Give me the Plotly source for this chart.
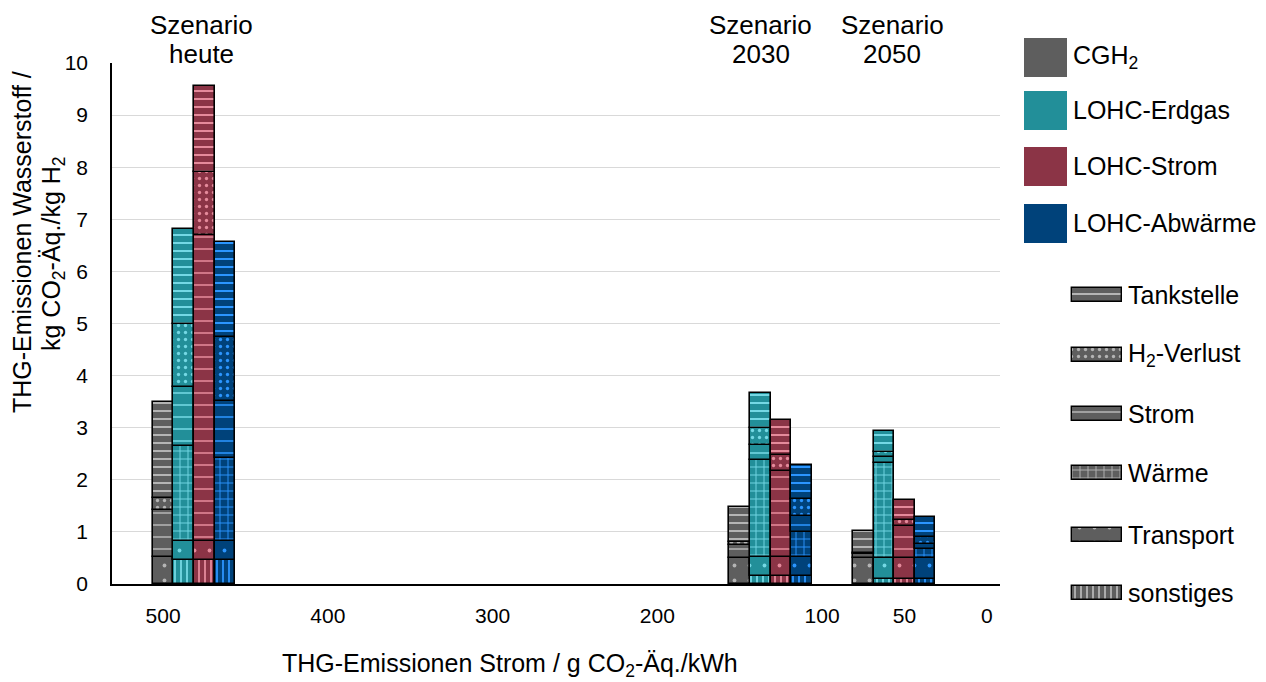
import plotly.graph_objects as go
import numpy as np

# ---------------- data ----------------
scenario_labels = ["Szenario", "Szenario", "Szenario"]
scenario_names = ["heute", "2030", "2050"]
technologies = ["CGH<sub>2</sub>", "LOHC-Erdgas", "LOHC-Strom", "LOHC-Abwärme"]
components = ["Tankstelle", "H<sub>2</sub>-Verlust", "Strom", "Wärme", "Transport", "sonstiges"]  # legend order

# bar positions (g CO2-Äq./kWh): heute, 2030, 2050 (CGH2, Erdgas, Strom, Abwärme)
x_heute = [500, 487.5, 475, 462.5]
x_2030 = [150, 137.5, 125, 112.5]
x_2050 = [75, 62.5, 50, 37.5]
bar_x = x_heute + x_2030 + x_2050

# segment values (kg CO2-Äq./kg H2), same order as bar_x
sonstiges = [0.00, 0.46, 0.46, 0.46, 0.00, 0.16, 0.16, 0.16, 0.00, 0.09, 0.09, 0.09]
transport = [0.51, 0.37, 0.37, 0.37, 0.49, 0.36, 0.36, 0.36, 0.50, 0.40, 0.40, 0.40]
waerme = [0.00, 1.82, 0.00, 1.58, 0.00, 1.86, 0.00, 0.47, 0.00, 1.83, 0.00, 0.18]
strom = [0.91, 1.13, 5.86, 1.11, 0.26, 0.29, 1.65, 0.31, 0.07, 0.12, 0.62, 0.10]
h2_verlust = [0.24, 1.21, 1.22, 1.23, 0.06, 0.32, 0.31, 0.34, 0.03, 0.10, 0.12, 0.13]
tankstelle = [1.84, 1.82, 1.64, 1.82, 0.67, 0.68, 0.67, 0.65, 0.42, 0.40, 0.38, 0.39]

x_ticks = [500, 400, 300, 200, 100, 50, 0]
y_ticks = [0, 1, 2, 3, 4, 5, 6, 7, 8, 9, 10]

# ---------------- styles ----------------
FONT = "Liberation Sans, Arial, sans-serif"
tech_bg = ["#5e5e5e", "#228f99", "#8b3446", "#00427a"]
tech_fg = ["#b4b4b4", "#74d8e4", "#e58a9b", "#2b95ff"]

# stacking order bottom -> top
stack = [
    ("sonstiges", sonstiges, dict(shape="|", size=6, solidity=0.3)),
    ("Transport", transport, dict(shape=".", size=15, solidity=0.05)),
    ("Wärme", waerme, dict(shape="+", size=8, solidity=0.22)),
    ("Strom", strom, dict(shape="-", size=12, solidity=0.16, fgopacity=0.8)),
    ("H<sub>2</sub>-Verlust", h2_verlust, dict(shape=".", size=7, solidity=0.18)),
    ("Tankstelle", tankstelle, dict(shape="-", size=8, solidity=0.25)),
]
pattern_by_name = {n: p for n, _, p in stack}

# the page body has an 8px margin; page coordinates below are those of the screenshot
OFF = 8
W, H = 1258, 674
ML, MR, MT, MB = 104, 6, 2, 70
PW, PH = W - ML - MR, H - MT - MB


def px_x(px):
    return (px - OFF - ML) / PW


def px_y(py):
    return (H - MB - (py - OFF)) / PH


fig = go.Figure()

n_tech = len(technologies)
base = np.zeros(len(bar_x))
for name, vals, pat in stack:
    vals = np.array(vals, dtype=float)
    for t in range(n_tech):
        idx = list(range(t, len(bar_x), n_tech))
        fig.add_trace(go.Bar(
            x=[bar_x[i] for i in idx], y=vals[idx], base=base[idx], width=12.5,
            name=f"{technologies[t]} – {name}", showlegend=False,
            marker=dict(color=tech_bg[t], line=dict(color="#000000", width=1.6),
                        pattern=dict(fgcolor=tech_fg[t], bgcolor=tech_bg[t], fillmode="replace", **pat)),
            xaxis="x", yaxis="y",
        ))
    base = base + vals

# ---------------- custom legend (on hidden helper axes, page-pixel units) ----------------
color_centers = [57, 110, 166, 223]
fig.add_trace(go.Bar(
    y=color_centers, x=[43] * 4, base=[1024] * 4, width=39, orientation="h",
    marker=dict(color=tech_bg, line=dict(width=0)), showlegend=False, hoverinfo="skip",
    xaxis="x2", yaxis="y2",
))
pat_centers = [295, 355, 414, 473, 535, 593]
for c, comp in zip(pat_centers, components):
    p = pattern_by_name[comp]
    fig.add_trace(go.Bar(
        y=[c], x=[50], base=[1072], width=14, orientation="h",
        marker=dict(color="#5e5e5e", line=dict(color="#000000", width=1.4),
                    pattern=dict(fgcolor="#b4b4b4", bgcolor="#5e5e5e", fillmode="replace", **p)),
        showlegend=False, hoverinfo="skip", xaxis="x2", yaxis="y2",
    ))

annotations = []
for txt, c in zip(technologies, color_centers):
    annotations.append(dict(text=txt, x=px_x(1071), y=px_y(c), xref="paper", yref="paper",
                            xanchor="left", yanchor="middle", showarrow=False,
                            font=dict(size=25, color="#000000", family=FONT)))
for txt, c in zip(components, pat_centers):
    annotations.append(dict(text=txt, x=px_x(1126), y=px_y(c), xref="paper", yref="paper",
                            xanchor="left", yanchor="middle", showarrow=False,
                            font=dict(size=25, color="#000000", family=FONT)))

# scenario labels
scen_x = [476.7, 137.1, 57.3]
for lab, nm, sx in zip(scenario_labels, scenario_names, scen_x):
    annotations.append(dict(text=lab, x=sx, y=px_y(25), xref="x", yref="paper",
                            xanchor="center", yanchor="middle", showarrow=False,
                            font=dict(size=26, color="#000000", family=FONT)))
    annotations.append(dict(text=nm, x=sx, y=px_y(54), xref="x", yref="paper",
                            xanchor="center", yanchor="middle", showarrow=False,
                            font=dict(size=26, color="#000000", family=FONT)))

# axis titles
annotations.append(dict(text="THG-Emissionen Wasserstoff /", x=px_x(22), y=px_y(242),
                        xref="paper", yref="paper", xanchor="center", yanchor="middle",
                        textangle=-90, showarrow=False,
                        font=dict(size=25, color="#000000", family=FONT)))
annotations.append(dict(text="kg CO<sub>2</sub>-Äq./kg H<sub>2</sub>", x=px_x(53), y=px_y(254),
                        xref="paper", yref="paper", xanchor="center", yanchor="middle",
                        textangle=-90, showarrow=False,
                        font=dict(size=25, color="#000000", family=FONT)))
annotations.append(dict(text="THG-Emissionen Strom / g CO<sub>2</sub>-Äq./kWh", x=px_x(510), y=px_y(665),
                        xref="paper", yref="paper", xanchor="center", yanchor="middle",
                        showarrow=False, font=dict(size=25, color="#000000", family=FONT)))

# gaps in the top gridline behind the scenario labels
shapes = [
    dict(type="rect", xref="x", yref="paper", x0=525, x1=427, y0=px_y(66), y1=px_y(60),
         fillcolor="#ffffff", line=dict(width=0), layer="between"),
    dict(type="rect", xref="x", yref="paper", x0=181.4, x1=11.5, y0=px_y(66), y1=px_y(60),
         fillcolor="#ffffff", line=dict(width=0), layer="between"),
]

fig.update_layout(
    width=W, height=H,
    margin=dict(l=ML, r=MR, t=MT, b=MB, autoexpand=False),
    paper_bgcolor="#ffffff", plot_bgcolor="#ffffff",
    barmode="overlay", bargap=0,
    font=dict(family=FONT, color="#000000"),
    xaxis=dict(domain=[0, px_x(1000)], range=[531, -8], tickmode="array",
               tickvals=x_ticks, ticktext=[str(v) for v in x_ticks],
               showgrid=False, zeroline=False, showline=True, linecolor="#000000", linewidth=1.5,
               ticks="", ticklabelstandoff=12, tickfont=dict(size=21, color="#000000", family=FONT),
               fixedrange=True, automargin=False),
    yaxis=dict(domain=[px_y(584), px_y(63)], range=[0, 10], tickmode="array",
               tickvals=y_ticks, ticktext=[str(v) for v in y_ticks],
               showgrid=True, gridcolor="#d9d9d9", gridwidth=1, zeroline=False,
               showline=True, linecolor="#000000", linewidth=1.5,
               ticks="", ticklabelstandoff=18, tickfont=dict(size=21, color="#000000", family=FONT),
               fixedrange=True, automargin=False),
    xaxis2=dict(domain=[px_x(1012), 1], range=[1012, 1260], visible=False, fixedrange=True,
                anchor="y2", automargin=False),
    yaxis2=dict(domain=[0, 1], range=[612, 10], visible=False, fixedrange=True, anchor="x2",
                automargin=False),
    annotations=annotations,
    shapes=shapes,
    showlegend=False,
)

fig.write_html("out.html")
